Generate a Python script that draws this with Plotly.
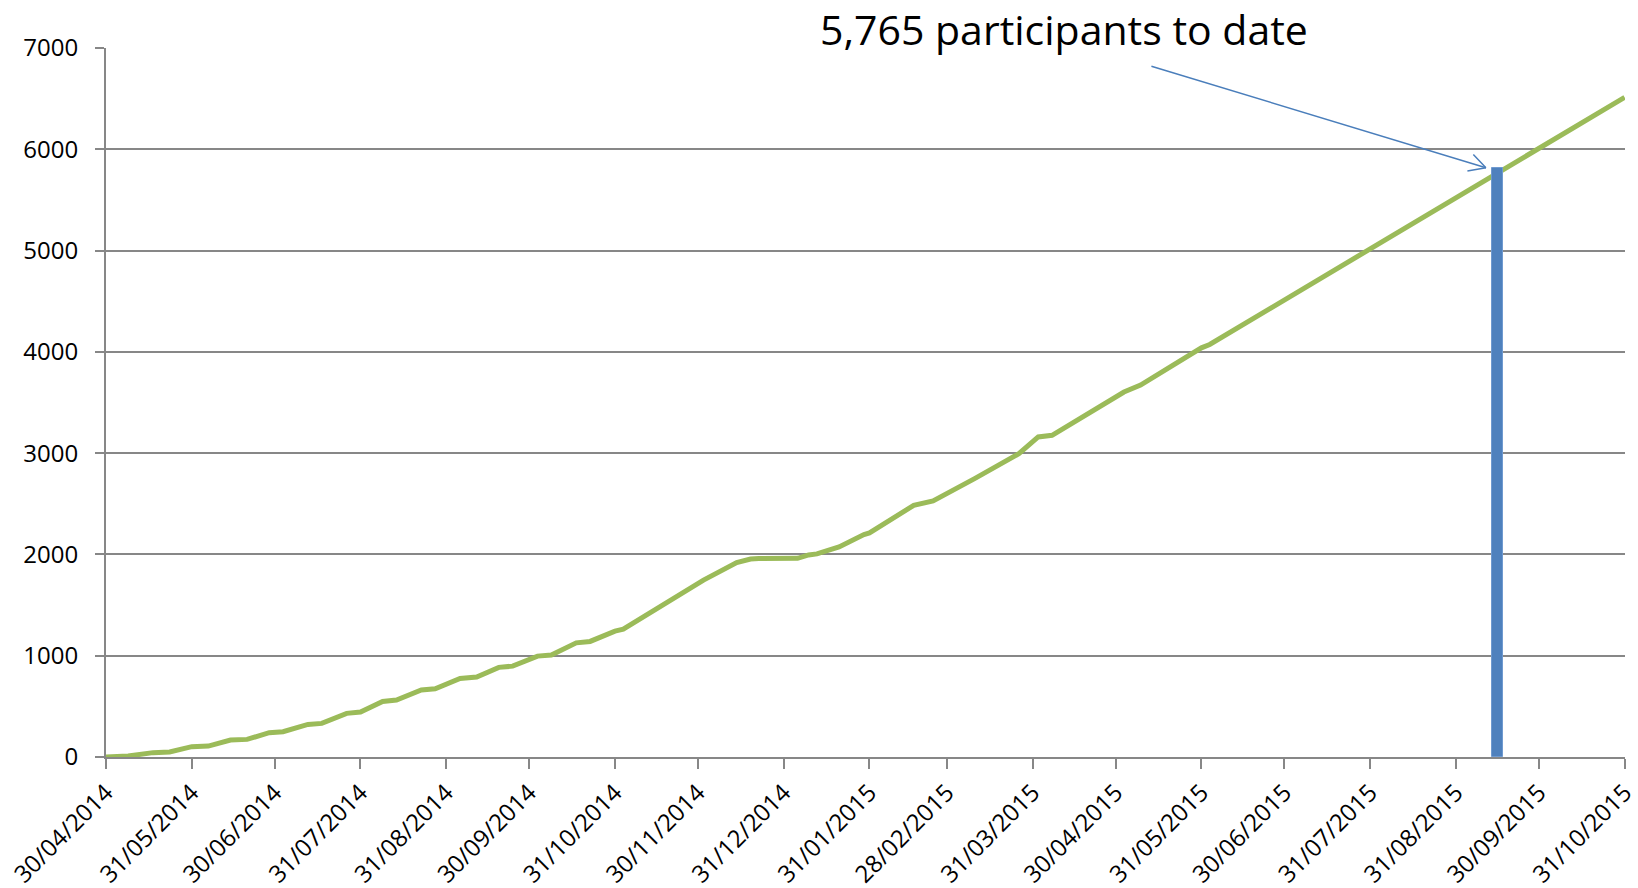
import plotly.graph_objects as go

# ---- data ----
dates = [
    "2014-04-30", "2014-05-08", "2014-05-17", "2014-05-23", "2014-05-31", "2014-06-06",
    "2014-06-14", "2014-06-20", "2014-06-28", "2014-07-03", "2014-07-12", "2014-07-17",
    "2014-07-26", "2014-07-31", "2014-08-08", "2014-08-13", "2014-08-22", "2014-08-27",
    "2014-09-05", "2014-09-11", "2014-09-19", "2014-09-24", "2014-10-03", "2014-10-08",
    "2014-10-17", "2014-10-22", "2014-10-31", "2014-11-03", "2014-12-02", "2014-12-08",
    "2014-12-14", "2014-12-19", "2014-12-22", "2015-01-05", "2015-01-09", "2015-01-12",
    "2015-01-20", "2015-01-29", "2015-01-31", "2015-02-16", "2015-02-19", "2015-02-23",
    "2015-03-10", "2015-03-26", "2015-04-02", "2015-04-07", "2015-05-03", "2015-05-09",
    "2015-05-31", "2015-06-03", "2015-10-31",
]
participants = [
    0, 10, 43, 50, 102, 108,
    168, 174, 240, 250, 322, 332,
    431, 444, 549, 562, 661, 673,
    776, 789, 885, 897, 996, 1006,
    1127, 1141, 1243, 1262, 1746, 1837,
    1920, 1955, 1960, 1962, 1995, 2005,
    2074, 2196, 2212, 2485, 2508, 2528,
    2748, 2995, 3160, 3176, 3603, 3672,
    4040, 4073, 6513,
]

marker_date = ["2015-09-15"]
marker_value = [5818]
marker_width_days = 4

tick_dates = [
    "2014-04-30", "2014-05-31", "2014-06-30", "2014-07-31", "2014-08-31", "2014-09-30",
    "2014-10-31", "2014-11-30", "2014-12-31", "2015-01-31", "2015-02-28", "2015-03-31",
    "2015-04-30", "2015-05-31", "2015-06-30", "2015-07-31", "2015-08-31", "2015-09-30",
    "2015-10-31",
]
tick_labels = [d[8:10] + "/" + d[5:7] + "/" + d[0:4] for d in tick_dates]
y_ticks = [0, 1000, 2000, 3000, 4000, 5000, 6000, 7000]

title_text = "5,765 participants to date"

GREEN = "#9BBB59"
BLUE = "#4F81BD"
ARROW = "#4A7EBB"
GRID = "#878787"
FONT = "Open Sans"

fig = go.Figure()
fig.add_trace(go.Scatter(
    x=dates, y=participants, mode="lines",
    line=dict(color=GREEN, width=5), hoverinfo="x+y", showlegend=False,
))
fig.add_trace(go.Bar(
    x=marker_date, y=marker_value, width=[marker_width_days * 86400000],
    marker=dict(color=BLUE, line=dict(color="#6F9AD0", width=1)),
    yaxis="y2", showlegend=False,
))

fig.update_layout(
    width=1638, height=888,
    margin=dict(l=106, r=13, t=48, b=131, autoexpand=False),
    paper_bgcolor="white", plot_bgcolor="white",
    font=dict(family=FONT, color="black", size=24),
    xaxis=dict(
        type="date", range=[tick_dates[0], "2015-10-31 03:00"],
        tickvals=tick_dates, ticktext=tick_labels, tickangle=-45,
        showgrid=False, showline=True, linecolor=GRID, linewidth=2,
        ticks="outside", ticklen=10, tickwidth=2, tickcolor=GRID,
        tickfont=dict(family=FONT, size=24, color="black"),
        ticklabeloverflow="allow",
        zeroline=False, fixedrange=True, automargin=False,
    ),
    yaxis=dict(
        range=[0, 7000], tickvals=y_ticks,
        showgrid=True, gridcolor=GRID, gridwidth=1.5,
        showline=True, linecolor=GRID, linewidth=2,
        ticks="outside", ticklen=9, tickwidth=2, tickcolor=GRID,
        tickfont=dict(family=FONT, size=24, color="black"),
        ticklabelstandoff=12, zeroline=False, fixedrange=True, automargin=False,
    ),
    yaxis2=dict(
        range=[0, 7000], overlaying="y", visible=False, fixedrange=True,
    ),
    bargap=0,
)

# title text
fig.add_annotation(
    text=title_text, xref="paper", yref="paper", x=0.631, y=1.027,
    xanchor="center", yanchor="middle", showarrow=False,
    font=dict(family=FONT, size=41, color="black"),
)
# arrow shaft pointing at the marker bar top
fig.add_annotation(
    text="", x=marker_date[0], y=marker_value[0], xref="x", yref="y",
    xshift=-11.5, showarrow=True, arrowhead=0, arrowwidth=1.5, arrowcolor=ARROW,
    ax=-336, ay=-102, standoff=0,
)
# open V arrow head
for wax, way in [(-14, -14.7), (-20, 3.6)]:
    fig.add_annotation(
        text="", x=marker_date[0], y=marker_value[0], xref="x", yref="y",
        xshift=-11.5, showarrow=True, arrowhead=0, arrowwidth=1.5, arrowcolor=ARROW,
        ax=wax, ay=way, standoff=0,
    )

fig.write_html(
    "out.html",
    config={"displayModeBar": False},
    post_script="document.body.style.margin='0';document.body.style.overflow='hidden';",
)
